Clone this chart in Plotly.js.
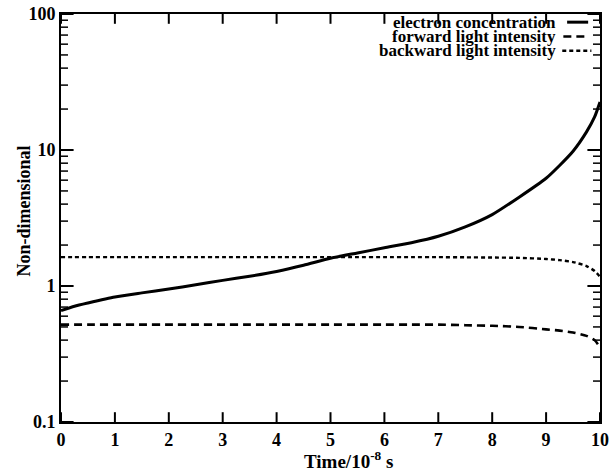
<!DOCTYPE html>
<html>
<head>
<meta charset="utf-8">
<script src="https://cdn.plot.ly/plotly-3.0.1.min.js"></script>
<style>html,body{margin:0;padding:0;background:#fff;}#chart{width:612px;height:476px;}</style>
</head>
<body>
<div id="chart"></div>
<script>
// Data
const time = [0, 0.25, 0.5, 1, 1.5, 2, 2.5, 3, 3.5, 4, 4.5, 5, 5.5, 6, 6.5, 7, 7.5, 8, 8.5, 9, 9.25, 9.5, 9.75, 9.9, 10];
const electron = [0.66, 0.71, 0.75, 0.83, 0.89, 0.95, 1.02, 1.10, 1.18, 1.28, 1.42, 1.60, 1.75, 1.91, 2.08, 2.32, 2.72, 3.35, 4.5, 6.2, 7.7, 9.8, 13.6, 17.5, 22.5];
const forwardI = [0.52, 0.52, 0.52, 0.52, 0.52, 0.52, 0.52, 0.52, 0.52, 0.52, 0.52, 0.52, 0.52, 0.52, 0.52, 0.52, 0.515, 0.51, 0.50, 0.48, 0.47, 0.455, 0.43, 0.40, 0.355];
const backwardI = [1.63, 1.63, 1.63, 1.63, 1.63, 1.63, 1.63, 1.63, 1.63, 1.63, 1.63, 1.63, 1.63, 1.63, 1.63, 1.63, 1.625, 1.62, 1.61, 1.58, 1.55, 1.50, 1.40, 1.29, 1.17];
const legendNames = ["electron concentration", "forward light intensity", "backward light intensity"];
const xTicks = [0, 1, 2, 3, 4, 5, 6, 7, 8, 9, 10];
const yTicks = [0.1, 1, 10, 100];
const yTickText = ["0.1", "1", "10", "100"];
const yMinorTicks = [0.2, 0.3, 0.4, 0.5, 0.6, 0.7, 0.8, 0.9, 2, 3, 4, 5, 6, 7, 8, 9, 20, 30, 40, 50, 60, 70, 80, 90];
const xRange = [0, 10];
const yRange = [0.1, 100];
const xTitle = "Time/10<sup>-8</sup> s";
const yTitle = "Non-dimensional";

const serif = "Liberation Serif, Times New Roman, serif";
const dashes = ["solid", "8px,5px", "4px,3px"];
const widths = [3, 2.6, 2.4];
const series = [electron, forwardI, backwardI];

const traces = series.map((s, i) => ({
  x: time, y: s, type: "scatter", mode: "lines", name: legendNames[i],
  line: {color: "black", width: widths[i], dash: dashes[i], shape: "spline", smoothing: 0.6},
  showlegend: false
}));

// Inside tick marks on all four sides: line markers at the axis edges, half clipped by the plot area
function tickTrace(xs, ys, symbol, size, width) {
  return {x: xs, y: ys, type: "scatter", mode: "markers", cliponaxis: true, showlegend: false, hoverinfo: "skip",
    marker: {symbol: symbol, size: size, color: "black", line: {color: "black", width: width}}};
}
yRange.forEach(edge => traces.push(tickTrace(xTicks, xTicks.map(() => edge), "line-ns-open", 14, 2)));
xRange.forEach(edge => {
  traces.push(tickTrace(yTicks.map(() => edge), yTicks, "line-ew-open", 18, 2));
  traces.push(tickTrace(yMinorTicks.map(() => edge), yMinorTicks, "line-ew-open", 10, 1.5));
});

// Legend: right-aligned text with line sample on its right (as in reference)
const legendY = [0.98, 0.945, 0.91];
const annotations = legendNames.map((n, i) => ({
  xref: "paper", yref: "paper", x: 0.922, y: legendY[i], xanchor: "right", yanchor: "middle",
  text: n, showarrow: false, font: {family: serif, size: 17, color: "black", weight: "bold"}
}));
annotations.push({
  xref: "paper", yref: "paper", x: 0.534, y: -0.092, xanchor: "center", yanchor: "middle",
  text: xTitle, showarrow: false, font: {family: serif, size: 19, color: "black", weight: "bold"}
});
annotations.push({
  xref: "paper", yref: "paper", x: -0.068, y: 0.517, xanchor: "center", yanchor: "middle",
  textangle: -90, text: yTitle, showarrow: false, font: {family: serif, size: 18, color: "black", weight: "bold"}
});
const sampleX = [[0.939, 0.978], [0.932, 0.976], [0.93, 0.984]];
const shapes = legendNames.map((n, i) => ({
  type: "line", xref: "paper", yref: "paper",
  x0: sampleX[i][0], x1: sampleX[i][1], y0: legendY[i], y1: legendY[i],
  line: {color: "black", width: widths[i], dash: dashes[i]}
}));

const layout = {
  width: 612, height: 476,
  margin: {l: 61, r: 12, t: 14, b: 54},
  paper_bgcolor: "white", plot_bgcolor: "white",
  showlegend: false,
  font: {family: serif, color: "black"},
  xaxis: {
    range: xRange, tickmode: "array", tickvals: xTicks, ticks: "",
    showline: true, linewidth: 2, linecolor: "black", mirror: true,
    showgrid: false, zeroline: false,
    tickfont: {family: serif, size: 18, weight: "bold"}
  },
  yaxis: {
    type: "log", range: [Math.log10(yRange[0]), Math.log10(yRange[1])], tickmode: "array", tickvals: yTicks, ticktext: yTickText, ticks: "",
    showline: true, linewidth: 2, linecolor: "black", mirror: true,
    showgrid: false, zeroline: false,
    tickfont: {family: serif, size: 18, weight: "bold"}
  },
  annotations: annotations,
  shapes: shapes
};

Plotly.newPlot("chart", traces, layout, {displayModeBar: false, staticPlot: true});
</script>
</body>
</html>
